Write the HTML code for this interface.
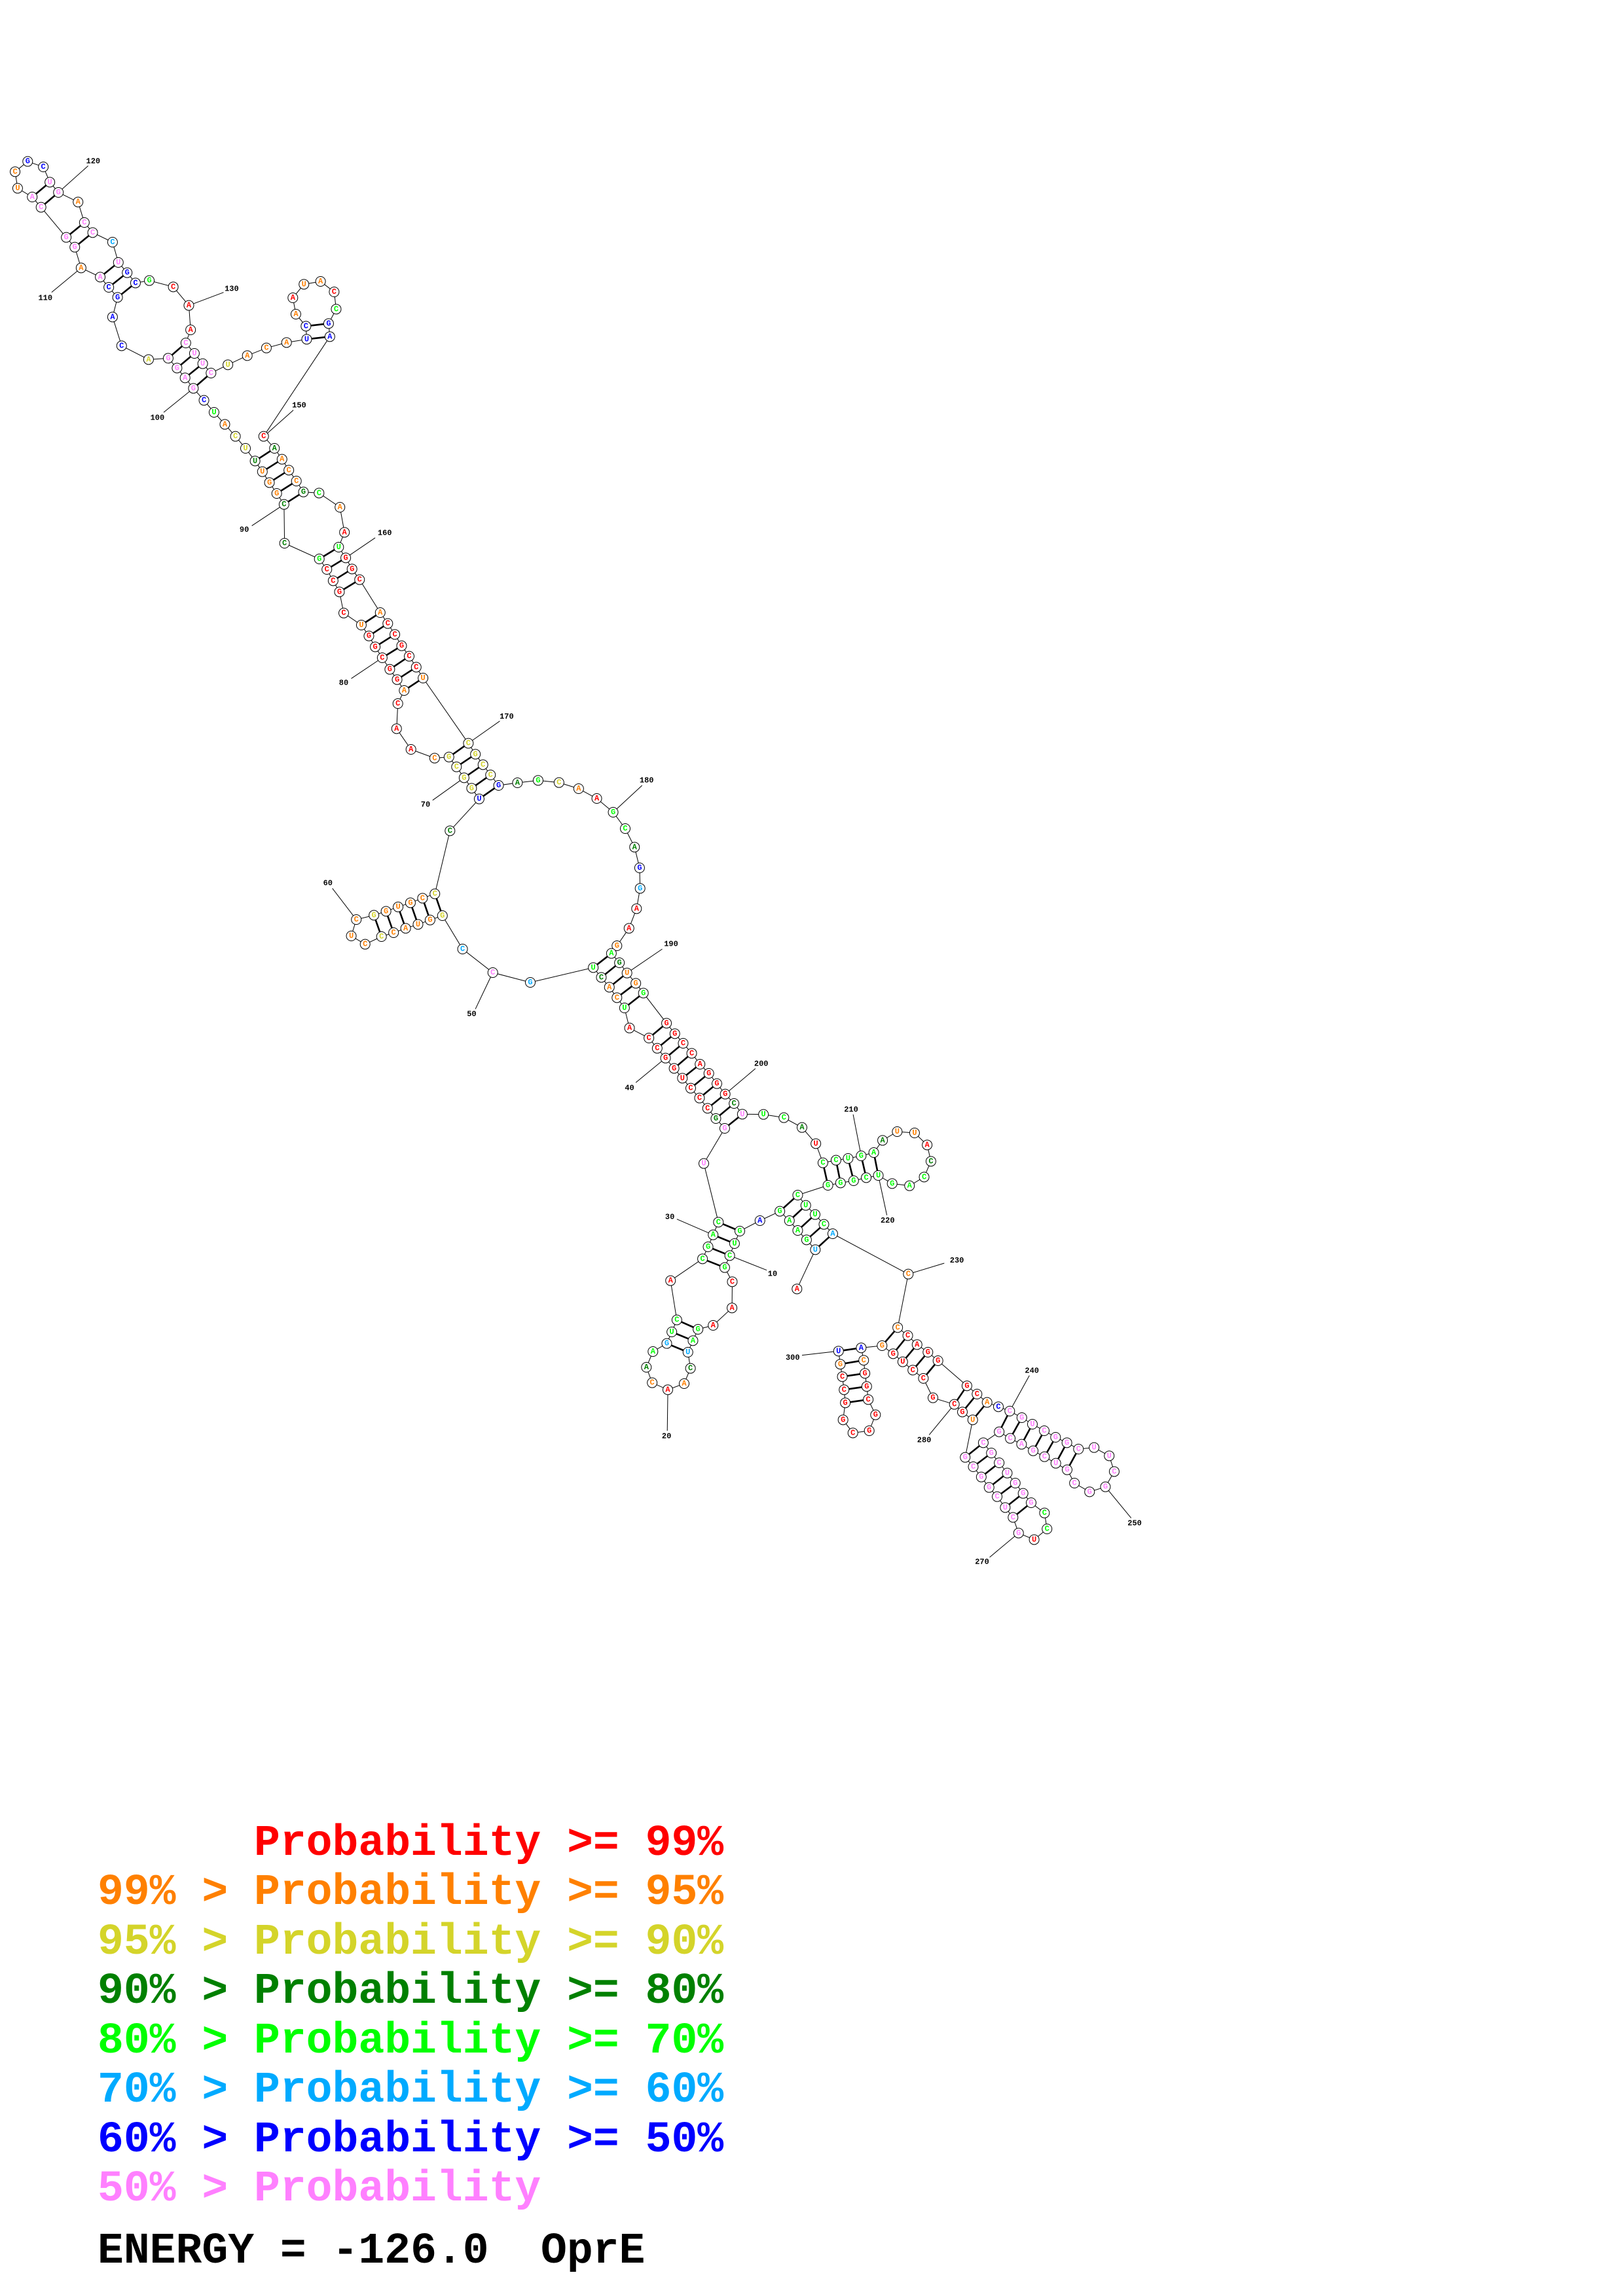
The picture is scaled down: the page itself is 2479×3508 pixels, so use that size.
<!DOCTYPE html>
<html><head><meta charset="utf-8"><style>
html,body{margin:0;padding:0;background:#fff}
svg{display:block}
.bb{fill:none;stroke:#000;stroke-width:1;vector-effect:non-scaling-stroke}
.pr{fill:none;stroke:#000;stroke-width:2.6;vector-effect:non-scaling-stroke}
.ln{fill:none;stroke:#000;stroke-width:1;vector-effect:non-scaling-stroke}
.n circle{fill:#fff;stroke:#000;stroke-width:1}
.n text{font:bold 12px "Liberation Mono",monospace;text-anchor:middle;dominant-baseline:central}
.lb{font:bold 13px "Liberation Sans",sans-serif;text-anchor:middle;dominant-baseline:central;fill:#000}
.r{fill:#f00}.o{fill:#ff8000}.y{fill:#d4d42a}.d{fill:#008000}.g{fill:#0f0}.c{fill:#00aaff}.b{fill:#00f}.p{fill:#ff80ff}
.lg{font:bold 66.4px "Liberation Mono",monospace}
</style></head><body>
<svg width="2479" height="3508" viewBox="0 0 2479 3508" xmlns="http://www.w3.org/2000/svg">
<g>
<line class="ln" x1="1089.2" y1="2025" x2="1066.2" y2="2031"/>
<line class="ln" x1="1033.8" y1="2016.7" x2="1024.2" y2="1956.7"/>
<line class="ln" x1="961.5" y1="1570.7" x2="953.8" y2="1540"/>
<line class="ln" x1="605.8" y1="1113.3" x2="607.7" y2="1075"/>
<line class="ln" x1="389.6" y1="704.3" x2="375" y2="685"/>
<line class="ln" x1="503.8" y1="514.3" x2="402.7" y2="666.7"/>
<line class="ln" x1="646.2" y1="1036" x2="715.4" y2="1135.7"/>
<line class="ln" x1="982.7" y1="1517.3" x2="1018.1" y2="1563.3"/>
<line class="ln" x1="1387.3" y1="1946.7" x2="1371.2" y2="2028.3"/>
<line class="ln" x1="1432.7" y1="2079" x2="1476.9" y2="2117.3"/>
<line class="ln" x1="1470" y1="2157.3" x2="1457.7" y2="2145.7"/>
<line class="pr" x1="1476.9" y1="2117.3" x2="1457.7" y2="2145.7" style="stroke-width:2.6"/>
</g>

<g transform="translate(0 200) scale(0.384615 0.333333)">
<polyline class="bb" points="975,1455 935,1400 893,1345 850,1290 810,1235 768,1180 735,1132 703,1087 668,1042 590,1048 483,985 447,853 467,763 432,717 398,670 322,628 297,533 263,488 163,350 128,303 70,263 60,187 110,140 172,165 198,235 232,282 310,326 335,420 368,466 447,510 470,603 505,650 538,697 593,686 688,715 750,800 757,912 738,972 772,1020 805,1067 838,1110 905,1072 982,1030 1058,995 1138,970 1218,955 1215,895 1175,840 1163,765 1207,703 1273,690 1327,738 1335,817 1305,883 1310,943"/>
<path class="pr" d="M128,303L198,235M163,350L232,282M263,488L335,420M297,533L368,466M398,670L470,603M432,717L505,650M467,763L538,697M668,1042L738,972M703,1087L772,1020M735,1132L805,1067M768,1180L838,1110M1218,955L1310,943M1215,895L1305,883"/>
<path class="ln" d="M650,1290L768,1180M205,740L322,628M350,160L232,282M888,740L750,800M1165,1280L1050,1398"/>
</g>
<g transform="translate(250 640) scale(0.384615 0.333333)">
<polyline class="bb" points="930,1305 955,1245 927,1195 898,1148 868,1095 840,1045 815,995 785,945 715,890 698,793 673,742 648,690 618,642 480,570 478,392 449,342 420,292 392,242 363,193"/>
<polyline class="bb" points="397,80 440,135 470,185 497,235 527,285 555,335 617,340 700,405 718,520 695,588 723,637 748,688 778,737 860,888 890,938 918,988 945,1040 975,1088 1003,1138 1030,1188"/>
<path class="pr" d="M363,193L440,135M392,242L470,185M420,292L497,235M449,342L527,285M478,392L555,335M618,642L695,588M648,690L723,637M673,742L748,688M698,793L778,737M785,945L860,888M815,995L890,938M840,1045L918,988M868,1095L945,1040M898,1148L975,1088M927,1195L1003,1138M955,1245L1030,1188"/>
<path class="ln" d="M350,490L478,392M840,545L723,637M745,1190L868,1095M1335,1385L1212,1485"/>
</g>
<g transform="translate(400 1100) scale(0.384615 0.333333)">
<polyline class="bb" points="1440,1320 1410,1273 1380,1225 1348,1180 1316,1135 1066,1203 917,1158 797,1050 717,897 668,917 620,937 571,955 523,975 475,993 410,1028 355,990 375,915 445,895 493,877 541,857 590,838 638,817 687,797 747,508 863,362 833,313 803,265 773,215 743,170 686,175 592,135 535,40"/>
<polyline class="bb" points="820,107 848,157 878,205 908,252 940,300 1015,288 1097,277 1180,287 1258,315 1330,360 1395,423 1443,498 1480,583 1500,678 1502,772 1488,865 1458,955 1410,1035 1388,1070 1420,1113 1450,1160 1485,1207 1515,1252"/>
<path class="pr" d="M717,897L687,797M668,917L638,817M620,937L590,838M571,955L541,857M523,975L493,877M475,993L445,895M863,362L940,300M833,313L908,252M803,265L878,205M773,215L848,157M743,170L820,107M1316,1135L1388,1070M1348,1180L1420,1113M1380,1225L1450,1160M1410,1273L1485,1207M1440,1320L1515,1252"/>
<path class="ln" d="M678,368L803,265M280,772L375,915M848,1325L917,1158M1510,300L1395,423M1590,1050L1450,1160"/>
</g>
<g transform="translate(850 1550) scale(0.384615 0.333333)">
<polyline class="bb" points="955,1258 1028,1078 993,1033 958,990 925,945 887,902 808,945 728,993 707,1050 688,1105 668,1160 698,1225 697,1345 622,1425"/>
<polyline class="bb" points="453,1220 580,1120 602,1065 622,1010 643,952 585,683 668,522 633,477 600,430 568,383 533,338 500,292 467,247 433,200 400,155 367,108 290,62"/>
<polyline class="bb" points="437,40 470,88 503,132 537,178 570,228 605,270 637,317 670,365 705,408 738,457 822,458 903,473 975,518 1030,592 1058,680 1110,668 1158,660 1210,648 1260,633 1295,577 1353,537 1422,543 1472,598 1487,673 1460,745 1402,785 1333,775 1278,738 1230,748 1180,762 1128,772 1078,783 958,828 990,875 1027,917 1062,962 1097,1005 1397,1190"/>
<path class="pr" d="M728,993L643,952M707,1050L622,1010M688,1105L602,1065M668,1160L580,1120M993,1033L1062,962M958,990L1027,917M925,945L990,875M887,902L958,828M1028,1078L1097,1005M1058,680L1078,783M1110,668L1128,772M1158,660L1180,762M1210,648L1230,748M1260,633L1278,738M668,522L738,457M633,477L705,408M600,430L670,365M568,383L637,317M533,338L605,270M500,292L570,228M467,247L537,178M433,200L503,132M400,155L470,88M367,108L437,40"/>
<path class="ln" d="M315,312L433,200M790,248L670,365M1178,458L1210,648M1312,920L1278,738M478,938L622,1010M835,1172L688,1105M1397,1190L1540,1140"/>
</g>
<g transform="translate(900 1950) scale(0.384615 0.333333)">
<polyline class="bb" points="432,243 412,295 392,348 402,422 377,492 312,520 250,488 227,417 253,345 308,308 328,255 348,200"/>
<polyline class="bb" points="1225,235 1265,272 1302,313 1345,348 1385,387"/>
<polyline class="bb" points="1450,587 1365,557 1327,468 1285,430 1245,392 1207,355 1163,318 1080,328 1090,385 1095,445 1102,505 1108,565 1137,635 1112,708 1047,718 1008,658 1017,580 1012,520 1005,460 997,403 990,343"/>
<path class="pr" d="M432,243L348,200M412,295L328,255M392,348L308,308M1225,235L1163,318M1265,272L1207,355M1302,313L1245,392M1345,348L1285,430M1385,387L1327,468M1080,328L990,343M1090,385L997,403M1095,445L1005,460M1102,505L1012,520M1108,565L1017,580"/>
<path class="ln" d="M312,540L310,708M845,362L972,345M1350,727L1450,587"/>
</g>
<g transform="translate(1400 2000) scale(0.384615 0.333333)">
<polyline class="bb" points="200,352 240,390 280,428 325,448 370,468 418,498 460,528 507,558 552,588 597,613 643,642 705,635 765,673 785,745 750,815 687,838 627,798 598,737 553,707 508,677 463,650 417,620 372,593 328,563 265,613 297,660 328,705 360,752 392,798 423,845 455,888 508,935 518,1008 467,1057 405,1027 383,955 352,910 320,860 288,818 257,770 225,723 193,680 223,508 182,472"/>
<path class="pr" d="M370,468L328,563M418,498L372,593M460,528L417,620M507,558L463,650M552,588L508,677M597,613L553,707M643,642L598,737M265,613L193,680M297,660L225,723M328,705L257,770M360,752L288,818M392,798L320,860M423,845L352,910M455,888L383,955M240,390L182,472M280,428L223,508"/>
<path class="ln" d="M448,305L370,468M852,958L750,815M290,1138L405,1027"/>
</g>

<g class="n" transform="translate(0 200) scale(0.384615 0.333333)">
<g transform="translate(975 1455)scale(2.6 3)"><circle r="7.5"/><text class="y">U</text></g>
<g transform="translate(935 1400)scale(2.6 3)"><circle r="7.5"/><text class="y">C</text></g>
<g transform="translate(893 1345)scale(2.6 3)"><circle r="7.5"/><text class="o">A</text></g>
<g transform="translate(850 1290)scale(2.6 3)"><circle r="7.5"/><text class="g">U</text></g>
<g transform="translate(810 1235)scale(2.6 3)"><circle r="7.5"/><text class="b">C</text></g>
<g transform="translate(768 1180)scale(2.6 3)"><circle r="7.5"/><text class="p">G</text></g>
<g transform="translate(735 1132)scale(2.6 3)"><circle r="7.5"/><text class="p">A</text></g>
<g transform="translate(703 1087)scale(2.6 3)"><circle r="7.5"/><text class="p">G</text></g>
<g transform="translate(668 1042)scale(2.6 3)"><circle r="7.5"/><text class="p">G</text></g>
<g transform="translate(590 1048)scale(2.6 3)"><circle r="7.5"/><text class="y">A</text></g>
<g transform="translate(483 985)scale(2.6 3)"><circle r="7.5"/><text class="b">C</text></g>
<g transform="translate(447 853)scale(2.6 3)"><circle r="7.5"/><text class="b">A</text></g>
<g transform="translate(467 763)scale(2.6 3)"><circle r="7.5"/><text class="b">G</text></g>
<g transform="translate(432 717)scale(2.6 3)"><circle r="7.5"/><text class="b">C</text></g>
<g transform="translate(398 670)scale(2.6 3)"><circle r="7.5"/><text class="p">A</text></g>
<g transform="translate(322 628)scale(2.6 3)"><circle r="7.5"/><text class="o">A</text></g>
<g transform="translate(297 533)scale(2.6 3)"><circle r="7.5"/><text class="p">G</text></g>
<g transform="translate(263 488)scale(2.6 3)"><circle r="7.5"/><text class="p">G</text></g>
<g transform="translate(163 350)scale(2.6 3)"><circle r="7.5"/><text class="p">C</text></g>
<g transform="translate(128 303)scale(2.6 3)"><circle r="7.5"/><text class="p">A</text></g>
<g transform="translate(70 263)scale(2.6 3)"><circle r="7.5"/><text class="o">U</text></g>
<g transform="translate(60 187)scale(2.6 3)"><circle r="7.5"/><text class="o">C</text></g>
<g transform="translate(110 140)scale(2.6 3)"><circle r="7.5"/><text class="b">G</text></g>
<g transform="translate(172 165)scale(2.6 3)"><circle r="7.5"/><text class="b">C</text></g>
<g transform="translate(198 235)scale(2.6 3)"><circle r="7.5"/><text class="p">U</text></g>
<g transform="translate(232 282)scale(2.6 3)"><circle r="7.5"/><text class="p">G</text></g>
<g transform="translate(310 326)scale(2.6 3)"><circle r="7.5"/><text class="o">A</text></g>
<g transform="translate(335 420)scale(2.6 3)"><circle r="7.5"/><text class="p">C</text></g>
<g transform="translate(368 466)scale(2.6 3)"><circle r="7.5"/><text class="p">C</text></g>
<g transform="translate(447 510)scale(2.6 3)"><circle r="7.5"/><text class="c">C</text></g>
<g transform="translate(470 603)scale(2.6 3)"><circle r="7.5"/><text class="p">U</text></g>
<g transform="translate(505 650)scale(2.6 3)"><circle r="7.5"/><text class="b">G</text></g>
<g transform="translate(538 697)scale(2.6 3)"><circle r="7.5"/><text class="b">C</text></g>
<g transform="translate(593 686)scale(2.6 3)"><circle r="7.5"/><text class="g">G</text></g>
<g transform="translate(688 715)scale(2.6 3)"><circle r="7.5"/><text class="r">C</text></g>
<g transform="translate(750 800)scale(2.6 3)"><circle r="7.5"/><text class="r">A</text></g>
<g transform="translate(757 912)scale(2.6 3)"><circle r="7.5"/><text class="r">A</text></g>
<g transform="translate(738 972)scale(2.6 3)"><circle r="7.5"/><text class="p">C</text></g>
<g transform="translate(772 1020)scale(2.6 3)"><circle r="7.5"/><text class="p">U</text></g>
<g transform="translate(805 1067)scale(2.6 3)"><circle r="7.5"/><text class="p">U</text></g>
<g transform="translate(838 1110)scale(2.6 3)"><circle r="7.5"/><text class="p">C</text></g>
<g transform="translate(905 1072)scale(2.6 3)"><circle r="7.5"/><text class="y">U</text></g>
<g transform="translate(982 1030)scale(2.6 3)"><circle r="7.5"/><text class="o">A</text></g>
<g transform="translate(1058 995)scale(2.6 3)"><circle r="7.5"/><text class="o">C</text></g>
<g transform="translate(1138 970)scale(2.6 3)"><circle r="7.5"/><text class="o">A</text></g>
<g transform="translate(1218 955)scale(2.6 3)"><circle r="7.5"/><text class="b">U</text></g>
<g transform="translate(1215 895)scale(2.6 3)"><circle r="7.5"/><text class="b">C</text></g>
<g transform="translate(1175 840)scale(2.6 3)"><circle r="7.5"/><text class="o">A</text></g>
<g transform="translate(1163 765)scale(2.6 3)"><circle r="7.5"/><text class="r">A</text></g>
<g transform="translate(1207 703)scale(2.6 3)"><circle r="7.5"/><text class="o">U</text></g>
<g transform="translate(1273 690)scale(2.6 3)"><circle r="7.5"/><text class="o">A</text></g>
<g transform="translate(1327 738)scale(2.6 3)"><circle r="7.5"/><text class="r">C</text></g>
<g transform="translate(1335 817)scale(2.6 3)"><circle r="7.5"/><text class="g">C</text></g>
<g transform="translate(1305 883)scale(2.6 3)"><circle r="7.5"/><text class="b">G</text></g>
<g transform="translate(1310 943)scale(2.6 3)"><circle r="7.5"/><text class="b">A</text></g>
<g transform="translate(625 1315)scale(2.6 3)"><text class="lb">100</text></g>
<g transform="translate(180 767)scale(2.6 3)"><text class="lb">110</text></g>
<g transform="translate(370 140)scale(2.6 3)"><text class="lb">120</text></g>
<g transform="translate(920 725)scale(2.6 3)"><text class="lb">130</text></g>
<g transform="translate(1188 1258)scale(2.6 3)"><text class="lb">150</text></g>
</g>

<g class="n" transform="translate(250 640) scale(0.384615 0.333333)">
<g transform="translate(930 1305)scale(2.6 3)"><circle r="7.5"/><text class="r">C</text></g>
<g transform="translate(955 1245)scale(2.6 3)"><circle r="7.5"/><text class="o">A</text></g>
<g transform="translate(927 1195)scale(2.6 3)"><circle r="7.5"/><text class="r">G</text></g>
<g transform="translate(898 1148)scale(2.6 3)"><circle r="7.5"/><text class="r">G</text></g>
<g transform="translate(868 1095)scale(2.6 3)"><circle r="7.5"/><text class="r">C</text></g>
<g transform="translate(840 1045)scale(2.6 3)"><circle r="7.5"/><text class="r">G</text></g>
<g transform="translate(815 995)scale(2.6 3)"><circle r="7.5"/><text class="r">G</text></g>
<g transform="translate(785 945)scale(2.6 3)"><circle r="7.5"/><text class="o">U</text></g>
<g transform="translate(715 890)scale(2.6 3)"><circle r="7.5"/><text class="r">C</text></g>
<g transform="translate(698 793)scale(2.6 3)"><circle r="7.5"/><text class="r">G</text></g>
<g transform="translate(673 742)scale(2.6 3)"><circle r="7.5"/><text class="r">C</text></g>
<g transform="translate(648 690)scale(2.6 3)"><circle r="7.5"/><text class="r">C</text></g>
<g transform="translate(618 642)scale(2.6 3)"><circle r="7.5"/><text class="g">G</text></g>
<g transform="translate(480 570)scale(2.6 3)"><circle r="7.5"/><text class="d">C</text></g>
<g transform="translate(478 392)scale(2.6 3)"><circle r="7.5"/><text class="d">C</text></g>
<g transform="translate(449 342)scale(2.6 3)"><circle r="7.5"/><text class="o">G</text></g>
<g transform="translate(420 292)scale(2.6 3)"><circle r="7.5"/><text class="o">G</text></g>
<g transform="translate(392 242)scale(2.6 3)"><circle r="7.5"/><text class="o">U</text></g>
<g transform="translate(363 193)scale(2.6 3)"><circle r="7.5"/><text class="d">U</text></g>
<g transform="translate(397 80)scale(2.6 3)"><circle r="7.5"/><text class="r">C</text></g>
<g transform="translate(440 135)scale(2.6 3)"><circle r="7.5"/><text class="d">A</text></g>
<g transform="translate(470 185)scale(2.6 3)"><circle r="7.5"/><text class="o">A</text></g>
<g transform="translate(497 235)scale(2.6 3)"><circle r="7.5"/><text class="o">C</text></g>
<g transform="translate(527 285)scale(2.6 3)"><circle r="7.5"/><text class="o">C</text></g>
<g transform="translate(555 335)scale(2.6 3)"><circle r="7.5"/><text class="d">G</text></g>
<g transform="translate(617 340)scale(2.6 3)"><circle r="7.5"/><text class="g">C</text></g>
<g transform="translate(700 405)scale(2.6 3)"><circle r="7.5"/><text class="o">A</text></g>
<g transform="translate(718 520)scale(2.6 3)"><circle r="7.5"/><text class="r">A</text></g>
<g transform="translate(695 588)scale(2.6 3)"><circle r="7.5"/><text class="g">U</text></g>
<g transform="translate(723 637)scale(2.6 3)"><circle r="7.5"/><text class="r">G</text></g>
<g transform="translate(748 688)scale(2.6 3)"><circle r="7.5"/><text class="r">G</text></g>
<g transform="translate(778 737)scale(2.6 3)"><circle r="7.5"/><text class="r">C</text></g>
<g transform="translate(860 888)scale(2.6 3)"><circle r="7.5"/><text class="o">A</text></g>
<g transform="translate(890 938)scale(2.6 3)"><circle r="7.5"/><text class="r">C</text></g>
<g transform="translate(918 988)scale(2.6 3)"><circle r="7.5"/><text class="r">C</text></g>
<g transform="translate(945 1040)scale(2.6 3)"><circle r="7.5"/><text class="r">G</text></g>
<g transform="translate(975 1088)scale(2.6 3)"><circle r="7.5"/><text class="r">C</text></g>
<g transform="translate(1003 1138)scale(2.6 3)"><circle r="7.5"/><text class="r">C</text></g>
<g transform="translate(1030 1188)scale(2.6 3)"><circle r="7.5"/><text class="o">U</text></g>
<g transform="translate(320 508)scale(2.6 3)"><text class="lb">90</text></g>
<g transform="translate(878 523)scale(2.6 3)"><text class="lb">160</text></g>
<g transform="translate(715 1210)scale(2.6 3)"><text class="lb">80</text></g>
<g transform="translate(1362 1365)scale(2.6 3)"><text class="lb">170</text></g>
</g>

<g class="n" transform="translate(400 1100) scale(0.384615 0.333333)">
<g transform="translate(1440 1320)scale(2.6 3)"><circle r="7.5"/><text class="g">U</text></g>
<g transform="translate(1410 1273)scale(2.6 3)"><circle r="7.5"/><text class="o">C</text></g>
<g transform="translate(1380 1225)scale(2.6 3)"><circle r="7.5"/><text class="o">A</text></g>
<g transform="translate(1348 1180)scale(2.6 3)"><circle r="7.5"/><text class="d">C</text></g>
<g transform="translate(1316 1135)scale(2.6 3)"><circle r="7.5"/><text class="g">U</text></g>
<g transform="translate(1066 1203)scale(2.6 3)"><circle r="7.5"/><text class="c">G</text></g>
<g transform="translate(917 1158)scale(2.6 3)"><circle r="7.5"/><text class="p">C</text></g>
<g transform="translate(797 1050)scale(2.6 3)"><circle r="7.5"/><text class="c">C</text></g>
<g transform="translate(717 897)scale(2.6 3)"><circle r="7.5"/><text class="y">G</text></g>
<g transform="translate(668 917)scale(2.6 3)"><circle r="7.5"/><text class="o">G</text></g>
<g transform="translate(620 937)scale(2.6 3)"><circle r="7.5"/><text class="o">U</text></g>
<g transform="translate(571 955)scale(2.6 3)"><circle r="7.5"/><text class="o">A</text></g>
<g transform="translate(523 975)scale(2.6 3)"><circle r="7.5"/><text class="o">C</text></g>
<g transform="translate(475 993)scale(2.6 3)"><circle r="7.5"/><text class="y">C</text></g>
<g transform="translate(410 1028)scale(2.6 3)"><circle r="7.5"/><text class="o">C</text></g>
<g transform="translate(355 990)scale(2.6 3)"><circle r="7.5"/><text class="o">U</text></g>
<g transform="translate(375 915)scale(2.6 3)"><circle r="7.5"/><text class="o">C</text></g>
<g transform="translate(445 895)scale(2.6 3)"><circle r="7.5"/><text class="y">G</text></g>
<g transform="translate(493 877)scale(2.6 3)"><circle r="7.5"/><text class="o">G</text></g>
<g transform="translate(541 857)scale(2.6 3)"><circle r="7.5"/><text class="o">U</text></g>
<g transform="translate(590 838)scale(2.6 3)"><circle r="7.5"/><text class="o">G</text></g>
<g transform="translate(638 817)scale(2.6 3)"><circle r="7.5"/><text class="o">C</text></g>
<g transform="translate(687 797)scale(2.6 3)"><circle r="7.5"/><text class="y">C</text></g>
<g transform="translate(747 508)scale(2.6 3)"><circle r="7.5"/><text class="d">C</text></g>
<g transform="translate(863 362)scale(2.6 3)"><circle r="7.5"/><text class="b">U</text></g>
<g transform="translate(833 313)scale(2.6 3)"><circle r="7.5"/><text class="y">G</text></g>
<g transform="translate(803 265)scale(2.6 3)"><circle r="7.5"/><text class="y">G</text></g>
<g transform="translate(773 215)scale(2.6 3)"><circle r="7.5"/><text class="y">C</text></g>
<g transform="translate(743 170)scale(2.6 3)"><circle r="7.5"/><text class="y">G</text></g>
<g transform="translate(686 175)scale(2.6 3)"><circle r="7.5"/><text class="o">C</text></g>
<g transform="translate(592 135)scale(2.6 3)"><circle r="7.5"/><text class="r">A</text></g>
<g transform="translate(535 40)scale(2.6 3)"><circle r="7.5"/><text class="r">A</text></g>
<g transform="translate(820 107)scale(2.6 3)"><circle r="7.5"/><text class="y">C</text></g>
<g transform="translate(848 157)scale(2.6 3)"><circle r="7.5"/><text class="y">G</text></g>
<g transform="translate(878 205)scale(2.6 3)"><circle r="7.5"/><text class="y">C</text></g>
<g transform="translate(908 252)scale(2.6 3)"><circle r="7.5"/><text class="y">C</text></g>
<g transform="translate(940 300)scale(2.6 3)"><circle r="7.5"/><text class="b">G</text></g>
<g transform="translate(1015 288)scale(2.6 3)"><circle r="7.5"/><text class="d">A</text></g>
<g transform="translate(1097 277)scale(2.6 3)"><circle r="7.5"/><text class="g">G</text></g>
<g transform="translate(1180 287)scale(2.6 3)"><circle r="7.5"/><text class="y">C</text></g>
<g transform="translate(1258 315)scale(2.6 3)"><circle r="7.5"/><text class="o">A</text></g>
<g transform="translate(1330 360)scale(2.6 3)"><circle r="7.5"/><text class="r">A</text></g>
<g transform="translate(1395 423)scale(2.6 3)"><circle r="7.5"/><text class="g">G</text></g>
<g transform="translate(1443 498)scale(2.6 3)"><circle r="7.5"/><text class="g">C</text></g>
<g transform="translate(1480 583)scale(2.6 3)"><circle r="7.5"/><text class="d">A</text></g>
<g transform="translate(1500 678)scale(2.6 3)"><circle r="7.5"/><text class="b">G</text></g>
<g transform="translate(1502 772)scale(2.6 3)"><circle r="7.5"/><text class="c">G</text></g>
<g transform="translate(1488 865)scale(2.6 3)"><circle r="7.5"/><text class="r">A</text></g>
<g transform="translate(1458 955)scale(2.6 3)"><circle r="7.5"/><text class="r">A</text></g>
<g transform="translate(1410 1035)scale(2.6 3)"><circle r="7.5"/><text class="o">G</text></g>
<g transform="translate(1388 1070)scale(2.6 3)"><circle r="7.5"/><text class="g">A</text></g>
<g transform="translate(1420 1113)scale(2.6 3)"><circle r="7.5"/><text class="d">G</text></g>
<g transform="translate(1450 1160)scale(2.6 3)"><circle r="7.5"/><text class="o">U</text></g>
<g transform="translate(1485 1207)scale(2.6 3)"><circle r="7.5"/><text class="o">G</text></g>
<g transform="translate(1515 1252)scale(2.6 3)"><circle r="7.5"/><text class="g">G</text></g>
<g transform="translate(650 388)scale(2.6 3)"><text class="lb">70</text></g>
<g transform="translate(262 748)scale(2.6 3)"><text class="lb">60</text></g>
<g transform="translate(833 1348)scale(2.6 3)"><text class="lb">50</text></g>
<g transform="translate(1528 278)scale(2.6 3)"><text class="lb">180</text></g>
<g transform="translate(1625 1028)scale(2.6 3)"><text class="lb">190</text></g>
</g>

<g class="n" transform="translate(850 1550) scale(0.384615 0.333333)">
<g transform="translate(955 1258)scale(2.6 3)"><circle r="7.5"/><text class="r">A</text></g>
<g transform="translate(1028 1078)scale(2.6 3)"><circle r="7.5"/><text class="c">U</text></g>
<g transform="translate(993 1033)scale(2.6 3)"><circle r="7.5"/><text class="g">G</text></g>
<g transform="translate(958 990)scale(2.6 3)"><circle r="7.5"/><text class="g">A</text></g>
<g transform="translate(925 945)scale(2.6 3)"><circle r="7.5"/><text class="g">A</text></g>
<g transform="translate(887 902)scale(2.6 3)"><circle r="7.5"/><text class="g">G</text></g>
<g transform="translate(808 945)scale(2.6 3)"><circle r="7.5"/><text class="b">A</text></g>
<g transform="translate(728 993)scale(2.6 3)"><circle r="7.5"/><text class="g">G</text></g>
<g transform="translate(707 1050)scale(2.6 3)"><circle r="7.5"/><text class="g">U</text></g>
<g transform="translate(688 1105)scale(2.6 3)"><circle r="7.5"/><text class="g">C</text></g>
<g transform="translate(668 1160)scale(2.6 3)"><circle r="7.5"/><text class="g">G</text></g>
<g transform="translate(698 1225)scale(2.6 3)"><circle r="7.5"/><text class="r">C</text></g>
<g transform="translate(697 1345)scale(2.6 3)"><circle r="7.5"/><text class="r">A</text></g>
<g transform="translate(622 1425)scale(2.6 3)"><circle r="7.5"/><text class="r">A</text></g>
<g transform="translate(453 1220)scale(2.6 3)"><circle r="7.5"/><text class="r">A</text></g>
<g transform="translate(580 1120)scale(2.6 3)"><circle r="7.5"/><text class="g">C</text></g>
<g transform="translate(602 1065)scale(2.6 3)"><circle r="7.5"/><text class="g">G</text></g>
<g transform="translate(622 1010)scale(2.6 3)"><circle r="7.5"/><text class="g">A</text></g>
<g transform="translate(643 952)scale(2.6 3)"><circle r="7.5"/><text class="g">C</text></g>
<g transform="translate(585 683)scale(2.6 3)"><circle r="7.5"/><text class="p">U</text></g>
<g transform="translate(668 522)scale(2.6 3)"><circle r="7.5"/><text class="p">G</text></g>
<g transform="translate(633 477)scale(2.6 3)"><circle r="7.5"/><text class="d">G</text></g>
<g transform="translate(600 430)scale(2.6 3)"><circle r="7.5"/><text class="r">C</text></g>
<g transform="translate(568 383)scale(2.6 3)"><circle r="7.5"/><text class="r">C</text></g>
<g transform="translate(533 338)scale(2.6 3)"><circle r="7.5"/><text class="r">C</text></g>
<g transform="translate(500 292)scale(2.6 3)"><circle r="7.5"/><text class="r">U</text></g>
<g transform="translate(467 247)scale(2.6 3)"><circle r="7.5"/><text class="r">G</text></g>
<g transform="translate(433 200)scale(2.6 3)"><circle r="7.5"/><text class="r">G</text></g>
<g transform="translate(400 155)scale(2.6 3)"><circle r="7.5"/><text class="r">C</text></g>
<g transform="translate(367 108)scale(2.6 3)"><circle r="7.5"/><text class="r">C</text></g>
<g transform="translate(290 62)scale(2.6 3)"><circle r="7.5"/><text class="r">A</text></g>
<g transform="translate(437 40)scale(2.6 3)"><circle r="7.5"/><text class="r">G</text></g>
<g transform="translate(470 88)scale(2.6 3)"><circle r="7.5"/><text class="r">G</text></g>
<g transform="translate(503 132)scale(2.6 3)"><circle r="7.5"/><text class="r">C</text></g>
<g transform="translate(537 178)scale(2.6 3)"><circle r="7.5"/><text class="r">C</text></g>
<g transform="translate(570 228)scale(2.6 3)"><circle r="7.5"/><text class="r">A</text></g>
<g transform="translate(605 270)scale(2.6 3)"><circle r="7.5"/><text class="r">G</text></g>
<g transform="translate(637 317)scale(2.6 3)"><circle r="7.5"/><text class="r">G</text></g>
<g transform="translate(670 365)scale(2.6 3)"><circle r="7.5"/><text class="r">G</text></g>
<g transform="translate(705 408)scale(2.6 3)"><circle r="7.5"/><text class="d">C</text></g>
<g transform="translate(738 457)scale(2.6 3)"><circle r="7.5"/><text class="p">U</text></g>
<g transform="translate(822 458)scale(2.6 3)"><circle r="7.5"/><text class="g">U</text></g>
<g transform="translate(903 473)scale(2.6 3)"><circle r="7.5"/><text class="g">C</text></g>
<g transform="translate(975 518)scale(2.6 3)"><circle r="7.5"/><text class="d">A</text></g>
<g transform="translate(1030 592)scale(2.6 3)"><circle r="7.5"/><text class="r">U</text></g>
<g transform="translate(1058 680)scale(2.6 3)"><circle r="7.5"/><text class="g">C</text></g>
<g transform="translate(1110 668)scale(2.6 3)"><circle r="7.5"/><text class="g">C</text></g>
<g transform="translate(1158 660)scale(2.6 3)"><circle r="7.5"/><text class="g">U</text></g>
<g transform="translate(1210 648)scale(2.6 3)"><circle r="7.5"/><text class="g">G</text></g>
<g transform="translate(1260 633)scale(2.6 3)"><circle r="7.5"/><text class="g">A</text></g>
<g transform="translate(1295 577)scale(2.6 3)"><circle r="7.5"/><text class="d">A</text></g>
<g transform="translate(1353 537)scale(2.6 3)"><circle r="7.5"/><text class="o">U</text></g>
<g transform="translate(1422 543)scale(2.6 3)"><circle r="7.5"/><text class="o">U</text></g>
<g transform="translate(1472 598)scale(2.6 3)"><circle r="7.5"/><text class="r">A</text></g>
<g transform="translate(1487 673)scale(2.6 3)"><circle r="7.5"/><text class="d">C</text></g>
<g transform="translate(1460 745)scale(2.6 3)"><circle r="7.5"/><text class="g">C</text></g>
<g transform="translate(1402 785)scale(2.6 3)"><circle r="7.5"/><text class="g">A</text></g>
<g transform="translate(1333 775)scale(2.6 3)"><circle r="7.5"/><text class="g">G</text></g>
<g transform="translate(1278 738)scale(2.6 3)"><circle r="7.5"/><text class="g">U</text></g>
<g transform="translate(1230 748)scale(2.6 3)"><circle r="7.5"/><text class="g">C</text></g>
<g transform="translate(1180 762)scale(2.6 3)"><circle r="7.5"/><text class="g">G</text></g>
<g transform="translate(1128 772)scale(2.6 3)"><circle r="7.5"/><text class="g">G</text></g>
<g transform="translate(1078 783)scale(2.6 3)"><circle r="7.5"/><text class="g">G</text></g>
<g transform="translate(958 828)scale(2.6 3)"><circle r="7.5"/><text class="g">C</text></g>
<g transform="translate(990 875)scale(2.6 3)"><circle r="7.5"/><text class="g">U</text></g>
<g transform="translate(1027 917)scale(2.6 3)"><circle r="7.5"/><text class="g">U</text></g>
<g transform="translate(1062 962)scale(2.6 3)"><circle r="7.5"/><text class="g">C</text></g>
<g transform="translate(1097 1005)scale(2.6 3)"><circle r="7.5"/><text class="c">A</text></g>
<g transform="translate(1397 1190)scale(2.6 3)"><circle r="7.5"/><text class="o">C</text></g>
<g transform="translate(290 338)scale(2.6 3)"><text class="lb">40</text></g>
<g transform="translate(813 227)scale(2.6 3)"><text class="lb">200</text></g>
<g transform="translate(1170 437)scale(2.6 3)"><text class="lb">210</text></g>
<g transform="translate(1315 945)scale(2.6 3)"><text class="lb">220</text></g>
<g transform="translate(450 928)scale(2.6 3)"><text class="lb">30</text></g>
<g transform="translate(858 1190)scale(2.6 3)"><text class="lb">10</text></g>
<g transform="translate(1590 1128)scale(2.6 3)"><text class="lb">230</text></g>
</g>

<g class="n" transform="translate(900 1950) scale(0.384615 0.333333)">
<g transform="translate(432 243)scale(2.6 3)"><circle r="7.5"/><text class="g">G</text></g>
<g transform="translate(412 295)scale(2.6 3)"><circle r="7.5"/><text class="g">A</text></g>
<g transform="translate(392 348)scale(2.6 3)"><circle r="7.5"/><text class="c">U</text></g>
<g transform="translate(402 422)scale(2.6 3)"><circle r="7.5"/><text class="d">C</text></g>
<g transform="translate(377 492)scale(2.6 3)"><circle r="7.5"/><text class="o">A</text></g>
<g transform="translate(312 520)scale(2.6 3)"><circle r="7.5"/><text class="r">A</text></g>
<g transform="translate(250 488)scale(2.6 3)"><circle r="7.5"/><text class="o">C</text></g>
<g transform="translate(227 417)scale(2.6 3)"><circle r="7.5"/><text class="d">A</text></g>
<g transform="translate(253 345)scale(2.6 3)"><circle r="7.5"/><text class="g">A</text></g>
<g transform="translate(308 308)scale(2.6 3)"><circle r="7.5"/><text class="c">G</text></g>
<g transform="translate(328 255)scale(2.6 3)"><circle r="7.5"/><text class="g">U</text></g>
<g transform="translate(348 200)scale(2.6 3)"><circle r="7.5"/><text class="g">C</text></g>
<g transform="translate(1225 235)scale(2.6 3)"><circle r="7.5"/><text class="o">C</text></g>
<g transform="translate(1265 272)scale(2.6 3)"><circle r="7.5"/><text class="r">C</text></g>
<g transform="translate(1302 313)scale(2.6 3)"><circle r="7.5"/><text class="r">A</text></g>
<g transform="translate(1345 348)scale(2.6 3)"><circle r="7.5"/><text class="r">G</text></g>
<g transform="translate(1385 387)scale(2.6 3)"><circle r="7.5"/><text class="r">G</text></g>
<g transform="translate(1450 587)scale(2.6 3)"><circle r="7.5"/><text class="r">C</text></g>
<g transform="translate(1365 557)scale(2.6 3)"><circle r="7.5"/><text class="r">G</text></g>
<g transform="translate(1327 468)scale(2.6 3)"><circle r="7.5"/><text class="r">C</text></g>
<g transform="translate(1285 430)scale(2.6 3)"><circle r="7.5"/><text class="r">C</text></g>
<g transform="translate(1245 392)scale(2.6 3)"><circle r="7.5"/><text class="r">U</text></g>
<g transform="translate(1207 355)scale(2.6 3)"><circle r="7.5"/><text class="r">G</text></g>
<g transform="translate(1163 318)scale(2.6 3)"><circle r="7.5"/><text class="o">G</text></g>
<g transform="translate(1080 328)scale(2.6 3)"><circle r="7.5"/><text class="b">A</text></g>
<g transform="translate(1090 385)scale(2.6 3)"><circle r="7.5"/><text class="o">C</text></g>
<g transform="translate(1095 445)scale(2.6 3)"><circle r="7.5"/><text class="r">G</text></g>
<g transform="translate(1102 505)scale(2.6 3)"><circle r="7.5"/><text class="r">G</text></g>
<g transform="translate(1108 565)scale(2.6 3)"><circle r="7.5"/><text class="r">C</text></g>
<g transform="translate(1137 635)scale(2.6 3)"><circle r="7.5"/><text class="r">G</text></g>
<g transform="translate(1112 708)scale(2.6 3)"><circle r="7.5"/><text class="r">G</text></g>
<g transform="translate(1047 718)scale(2.6 3)"><circle r="7.5"/><text class="r">C</text></g>
<g transform="translate(1008 658)scale(2.6 3)"><circle r="7.5"/><text class="r">G</text></g>
<g transform="translate(1017 580)scale(2.6 3)"><circle r="7.5"/><text class="r">G</text></g>
<g transform="translate(1012 520)scale(2.6 3)"><circle r="7.5"/><text class="r">C</text></g>
<g transform="translate(1005 460)scale(2.6 3)"><circle r="7.5"/><text class="r">C</text></g>
<g transform="translate(997 403)scale(2.6 3)"><circle r="7.5"/><text class="o">G</text></g>
<g transform="translate(990 343)scale(2.6 3)"><circle r="7.5"/><text class="b">U</text></g>
<g transform="translate(307 733)scale(2.6 3)"><text class="lb">20</text></g>
<g transform="translate(808 373)scale(2.6 3)"><text class="lb">300</text></g>
<g transform="translate(1330 751)scale(2.6 3)"><text class="lb">280</text></g>
</g>

<g class="n" transform="translate(1400 2000) scale(0.384615 0.333333)">
<g transform="translate(200 352)scale(2.6 3)"><circle r="7.5"/><text class="r">G</text></g>
<g transform="translate(240 390)scale(2.6 3)"><circle r="7.5"/><text class="r">C</text></g>
<g transform="translate(280 428)scale(2.6 3)"><circle r="7.5"/><text class="o">A</text></g>
<g transform="translate(325 448)scale(2.6 3)"><circle r="7.5"/><text class="b">C</text></g>
<g transform="translate(370 468)scale(2.6 3)"><circle r="7.5"/><text class="p">C</text></g>
<g transform="translate(418 498)scale(2.6 3)"><circle r="7.5"/><text class="p">G</text></g>
<g transform="translate(460 528)scale(2.6 3)"><circle r="7.5"/><text class="p">U</text></g>
<g transform="translate(507 558)scale(2.6 3)"><circle r="7.5"/><text class="p">C</text></g>
<g transform="translate(552 588)scale(2.6 3)"><circle r="7.5"/><text class="p">G</text></g>
<g transform="translate(597 613)scale(2.6 3)"><circle r="7.5"/><text class="p">G</text></g>
<g transform="translate(643 642)scale(2.6 3)"><circle r="7.5"/><text class="p">C</text></g>
<g transform="translate(705 635)scale(2.6 3)"><circle r="7.5"/><text class="p">U</text></g>
<g transform="translate(765 673)scale(2.6 3)"><circle r="7.5"/><text class="p">U</text></g>
<g transform="translate(785 745)scale(2.6 3)"><circle r="7.5"/><text class="p">C</text></g>
<g transform="translate(750 815)scale(2.6 3)"><circle r="7.5"/><text class="p">G</text></g>
<g transform="translate(687 838)scale(2.6 3)"><circle r="7.5"/><text class="p">G</text></g>
<g transform="translate(627 798)scale(2.6 3)"><circle r="7.5"/><text class="p">C</text></g>
<g transform="translate(598 737)scale(2.6 3)"><circle r="7.5"/><text class="p">G</text></g>
<g transform="translate(553 707)scale(2.6 3)"><circle r="7.5"/><text class="p">U</text></g>
<g transform="translate(508 677)scale(2.6 3)"><circle r="7.5"/><text class="p">C</text></g>
<g transform="translate(463 650)scale(2.6 3)"><circle r="7.5"/><text class="p">G</text></g>
<g transform="translate(417 620)scale(2.6 3)"><circle r="7.5"/><text class="p">A</text></g>
<g transform="translate(372 593)scale(2.6 3)"><circle r="7.5"/><text class="p">C</text></g>
<g transform="translate(328 563)scale(2.6 3)"><circle r="7.5"/><text class="p">G</text></g>
<g transform="translate(265 613)scale(2.6 3)"><circle r="7.5"/><text class="p">C</text></g>
<g transform="translate(297 660)scale(2.6 3)"><circle r="7.5"/><text class="p">G</text></g>
<g transform="translate(328 705)scale(2.6 3)"><circle r="7.5"/><text class="p">C</text></g>
<g transform="translate(360 752)scale(2.6 3)"><circle r="7.5"/><text class="p">U</text></g>
<g transform="translate(392 798)scale(2.6 3)"><circle r="7.5"/><text class="p">G</text></g>
<g transform="translate(423 845)scale(2.6 3)"><circle r="7.5"/><text class="p">G</text></g>
<g transform="translate(455 888)scale(2.6 3)"><circle r="7.5"/><text class="p">G</text></g>
<g transform="translate(508 935)scale(2.6 3)"><circle r="7.5"/><text class="g">C</text></g>
<g transform="translate(518 1008)scale(2.6 3)"><circle r="7.5"/><text class="g">C</text></g>
<g transform="translate(467 1057)scale(2.6 3)"><circle r="7.5"/><text class="r">U</text></g>
<g transform="translate(405 1027)scale(2.6 3)"><circle r="7.5"/><text class="p">G</text></g>
<g transform="translate(383 955)scale(2.6 3)"><circle r="7.5"/><text class="p">C</text></g>
<g transform="translate(352 910)scale(2.6 3)"><circle r="7.5"/><text class="p">U</text></g>
<g transform="translate(320 860)scale(2.6 3)"><circle r="7.5"/><text class="p">C</text></g>
<g transform="translate(288 818)scale(2.6 3)"><circle r="7.5"/><text class="p">G</text></g>
<g transform="translate(257 770)scale(2.6 3)"><circle r="7.5"/><text class="p">G</text></g>
<g transform="translate(225 723)scale(2.6 3)"><circle r="7.5"/><text class="p">C</text></g>
<g transform="translate(193 680)scale(2.6 3)"><circle r="7.5"/><text class="p">G</text></g>
<g transform="translate(223 508)scale(2.6 3)"><circle r="7.5"/><text class="o">U</text></g>
<g transform="translate(182 472)scale(2.6 3)"><circle r="7.5"/><text class="r">G</text></g>
<g transform="translate(458 284)scale(2.6 3)"><text class="lb">240</text></g>
<g transform="translate(866 983)scale(2.6 3)"><text class="lb">250</text></g>
<g transform="translate(260 1160)scale(2.6 3)"><text class="lb">270</text></g>
</g>

<g class="lg">
<text x="388" y="2834" fill="#ff0000">Probability &gt;= 99%</text>
<text x="149" y="2909" fill="#ff8000">99% &gt;</text><text x="388" y="2909" fill="#ff8000">Probability &gt;= 95%</text>
<text x="149" y="2985" fill="#d4d42a">95% &gt;</text><text x="388" y="2985" fill="#d4d42a">Probability &gt;= 90%</text>
<text x="149" y="3060" fill="#008000">90% &gt;</text><text x="388" y="3060" fill="#008000">Probability &gt;= 80%</text>
<text x="149" y="3136" fill="#00ff00">80% &gt;</text><text x="388" y="3136" fill="#00ff00">Probability &gt;= 70%</text>
<text x="149" y="3211" fill="#00aaff">70% &gt;</text><text x="388" y="3211" fill="#00aaff">Probability &gt;= 60%</text>
<text x="149" y="3287" fill="#0000ff">60% &gt;</text><text x="388" y="3287" fill="#0000ff">Probability &gt;= 50%</text>
<text x="149" y="3362" fill="#ff80ff">50% &gt;</text><text x="388" y="3362" fill="#ff80ff">Probability</text>
<text x="149" y="3457" fill="#000">ENERGY = -126.0</text><text x="826" y="3457" fill="#000">OprE</text>
</g>
</svg>
</body></html>
